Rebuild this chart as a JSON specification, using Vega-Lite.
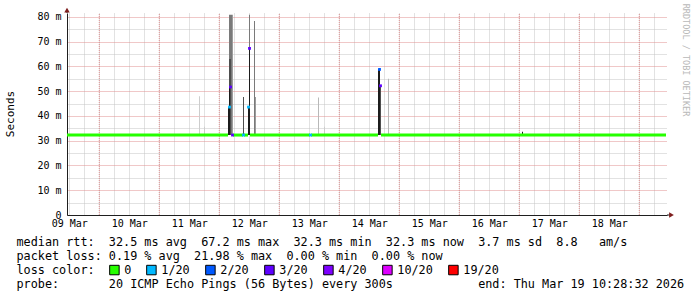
{
  "width": 600,
  "height": 202,
  "autosize": {"type": "none"},
  "padding": {"left": 67, "top": 13, "right": 30, "bottom": 82},
  "background": "#ffffff",
  "config": {
    "view": {"stroke": null},
    "font": "DejaVu Sans Mono"
  },
  "datasets": {
    "days": [
      {"t": "2026-03-10T00:00:00"}, {"t": "2026-03-11T00:00:00"}, {"t": "2026-03-12T00:00:00"},
      {"t": "2026-03-13T00:00:00"}, {"t": "2026-03-14T00:00:00"}, {"t": "2026-03-15T00:00:00"},
      {"t": "2026-03-16T00:00:00"}, {"t": "2026-03-17T00:00:00"}, {"t": "2026-03-18T00:00:00"},
      {"t": "2026-03-19T00:00:00"}
    ],
    "smoke": [
      {"t": "2026-03-11T15:53:00", "t2": "2026-03-11T16:17:00", "lo": 32.3, "hi": 48.0, "level": 6},
      {"t": "2026-03-11T17:53:00", "t2": "2026-03-11T18:17:00", "lo": 32.3, "hi": 35.6, "level": 6},
      {"t": "2026-03-12T03:29:00", "t2": "2026-03-12T03:53:00", "lo": 32.3, "hi": 43.6, "level": 1},
      {"t": "2026-03-12T03:53:00", "t2": "2026-03-12T04:17:00", "lo": 32.3, "hi": 51.7, "level": 1},
      {"t": "2026-03-12T03:53:00", "t2": "2026-03-12T04:17:00", "lo": 51.7, "hi": 63.0, "level": 2},
      {"t": "2026-03-12T03:53:00", "t2": "2026-03-12T04:17:00", "lo": 63.0, "hi": 80.9, "level": 3},
      {"t": "2026-03-12T04:17:00", "t2": "2026-03-12T04:41:00", "lo": 32.3, "hi": 63.0, "level": 2},
      {"t": "2026-03-12T04:17:00", "t2": "2026-03-12T04:41:00", "lo": 63.0, "hi": 80.9, "level": 3},
      {"t": "2026-03-12T04:41:00", "t2": "2026-03-12T05:05:00", "lo": 32.3, "hi": 80.9, "level": 3},
      {"t": "2026-03-12T05:05:00", "t2": "2026-03-12T05:29:00", "lo": 32.3, "hi": 80.9, "level": 4},
      {"t": "2026-03-12T09:29:00", "t2": "2026-03-12T09:53:00", "lo": 32.3, "hi": 47.7, "level": 2},
      {"t": "2026-03-12T11:29:00", "t2": "2026-03-12T11:53:00", "lo": 32.3, "hi": 43.6, "level": 1},
      {"t": "2026-03-12T11:53:00", "t2": "2026-03-12T12:17:00", "lo": 32.3, "hi": 67.3, "level": 1},
      {"t": "2026-03-12T11:53:00", "t2": "2026-03-12T12:17:00", "lo": 67.3, "hi": 80.9, "level": 3},
      {"t": "2026-03-12T13:53:00", "t2": "2026-03-12T14:17:00", "lo": 32.3, "hi": 78.4, "level": 3},
      {"t": "2026-03-12T14:17:00", "t2": "2026-03-12T14:41:00", "lo": 32.3, "hi": 47.7, "level": 4},
      {"t": "2026-03-13T15:29:00", "t2": "2026-03-13T15:53:00", "lo": 32.3, "hi": 47.5, "level": 5},
      {"t": "2026-03-13T17:53:00", "t2": "2026-03-13T18:17:00", "lo": 32.3, "hi": 35.6, "level": 6},
      {"t": "2026-03-14T15:29:00", "t2": "2026-03-14T15:53:00", "lo": 32.3, "hi": 58.9, "level": 1},
      {"t": "2026-03-14T15:53:00", "t2": "2026-03-14T16:17:00", "lo": 32.3, "hi": 58.9, "level": 1},
      {"t": "2026-03-14T16:17:00", "t2": "2026-03-14T16:41:00", "lo": 32.3, "hi": 52.2, "level": 2},
      {"t": "2026-03-14T19:29:00", "t2": "2026-03-14T19:53:00", "lo": 32.3, "hi": 55.0, "level": 5},
      {"t": "2026-03-17T01:05:00", "t2": "2026-03-17T01:29:00", "lo": 32.6, "hi": 33.6, "level": 1}
    ],
    "median": [
      {"t": "2026-03-09T11:05:00", "t2": "2026-03-12T03:29:00", "v": 32.3},
      {"t": "2026-03-12T05:29:00", "t2": "2026-03-12T09:29:00", "v": 32.3},
      {"t": "2026-03-12T09:53:00", "t2": "2026-03-12T11:29:00", "v": 32.3},
      {"t": "2026-03-12T12:17:00", "t2": "2026-03-13T12:17:00", "v": 32.3},
      {"t": "2026-03-13T12:41:00", "t2": "2026-03-14T15:29:00", "v": 32.3},
      {"t": "2026-03-14T16:41:00", "t2": "2026-03-19T10:41:00", "v": 32.3}
    ],
    "loss": [
      {"t": "2026-03-12T04:05:00", "v": 43.6, "loss": "1/20"},
      {"t": "2026-03-12T04:29:00", "v": 51.7, "loss": "3/20"},
      {"t": "2026-03-12T05:17:00", "v": 32.3, "loss": "3/20"},
      {"t": "2026-03-12T09:41:00", "v": 32.3, "loss": "1/20"},
      {"t": "2026-03-12T11:41:00", "v": 43.6, "loss": "1/20"},
      {"t": "2026-03-12T12:05:00", "v": 67.3, "loss": "3/20"},
      {"t": "2026-03-13T12:29:00", "v": 32.3, "loss": "1/20"},
      {"t": "2026-03-14T16:05:00", "v": 58.8, "loss": "2/20"},
      {"t": "2026-03-14T16:29:00", "v": 52.2, "loss": "3/20"}
    ]
  },
  "layer": [
    {
      "data": {"name": "smoke"},
      "mark": {"type": "rect"},
      "encoding": {
        "x": {
          "field": "t",
          "type": "temporal",
          "scale": {
            "domain": [
              {"year": 2026, "month": 3, "date": 9, "hours": 11, "minutes": 5},
              {"year": 2026, "month": 3, "date": 19, "hours": 11, "minutes": 5}
            ],
            "nice": false
          },
          "axis": {
            "tickCount": 40,
            "grid": true,
            "gridColor": "#c4c4c4",
            "gridDash": [1, 1],
            "ticks": false,
            "domainColor": "#1f1f1f",
            "labelExpr": "hours(datum.value) === 12 ? timeFormat(datum.value, '%d %b') : ''",
            "labelFont": "DejaVu Sans Mono",
            "labelFontSize": 10,
            "labelColor": "#000000",
            "labelPadding": 3,
            "labelFlush": false,
            "labelOverlap": false,
            "title": [
              "median rtt:\u00a0\u00a032.5 ms avg\u00a0\u00a067.2 ms max\u00a0\u00a032.3 ms min\u00a0\u00a032.3 ms now\u00a0\u00a03.7 ms sd\u00a0\u00a08.8\u00a0\u00a0\u00a0am/s",
              "packet loss: 0.19 % avg\u00a0\u00a021.98 % max\u00a0\u00a00.00 % min\u00a0\u00a00.00 % now",
              "loss color:",
              "probe:\u00a0\u00a0\u00a0\u00a0\u00a0\u00a0\u00a020 ICMP Echo Pings (56 Bytes) every 300s\u00a0\u00a0\u00a0\u00a0\u00a0\u00a0\u00a0\u00a0\u00a0\u00a0\u00a0\u00a0end: Thu Mar 19 10:28:32 2026"
            ],
            "titleX": -51,
            "titleY": 21,
            "titleAlign": "left",
            "titleAnchor": "start",
            "titleBaseline": "top",
            "titleFont": "DejaVu Sans Mono",
            "titleFontSize": 11.8,
            "titleFontWeight": "normal",
            "titleColor": "#000000",
            "titleLineHeight": 14.3
          }
        },
        "x2": {"field": "t2"},
        "y": {
          "field": "lo",
          "type": "quantitative",
          "scale": {"domain": [0, 81.6], "nice": false},
          "axis": {
            "title": "Seconds",
            "titleFont": "DejaVu Sans Mono",
            "titleFontSize": 11,
            "titleFontWeight": "normal",
            "titleColor": "#000000",
            "titleX": -56.5,
            "titleY": 100.5,
            "titleAlign": "center",
            "titleBaseline": "middle",
            "tickCount": 17,
            "grid": true,
            "gridColor": {"condition": {"test": "datum.value % 10 === 0", "value": "#e09090"}, "value": "#c4c4c4"},
            "gridDash": [1, 1],
            "ticks": false,
            "domainColor": "#1f1f1f",
            "labelExpr": "datum.value === 0 ? '0' : (datum.value % 10 === 0 ? datum.value + ' m' : '')",
            "labelFont": "DejaVu Sans Mono",
            "labelFontSize": 10,
            "labelColor": "#000000",
            "labelPadding": 6,
            "labelOverlap": false
          }
        },
        "y2": {"field": "hi"},
        "fill": {
          "field": "level",
          "type": "ordinal",
          "scale": {"domain": [1, 2, 3, 4, 5, 6], "range": ["#1c1c1c", "#4e4e4e", "#7a7a7a", "#9c9c9c", "#b8b8b8", "#cdcdcd"]},
          "legend": null
        }
      }
    },
    {
      "data": {"name": "days"},
      "mark": {"type": "rule", "color": "#e09090", "strokeDash": [1, 1], "strokeWidth": 1},
      "encoding": {
        "x": {"field": "t", "type": "temporal"},
        "y": {"datum": 0, "type": "quantitative"},
        "y2": {"datum": 81.6}
      }
    },
    {
      "data": {"name": "median"},
      "mark": {"type": "rule", "strokeWidth": 3, "color": "#26ff00", "strokeCap": "butt"},
      "encoding": {
        "x": {"field": "t", "type": "temporal"},
        "x2": {"field": "t2"},
        "y": {"field": "v", "type": "quantitative"}
      }
    },
    {
      "data": {"name": "loss"},
      "mark": {"type": "square", "size": 8, "filled": true, "opacity": 1},
      "encoding": {
        "x": {"field": "t", "type": "temporal"},
        "y": {"field": "v", "type": "quantitative"},
        "color": {
          "field": "loss",
          "type": "nominal",
          "scale": {
            "domain": ["0", "1/20", "2/20", "3/20", "4/20", "10/20", "19/20"],
            "range": ["#26ff00", "#00b8ff", "#0059ff", "#5e00ff", "#7e00ff", "#dd00ff", "#ff0000"]
          },
          "legend": {
            "orient": "none",
            "legendX": 41.5,
            "legendY": 251,
            "direction": "horizontal",
            "title": null,
            "symbolType": "square",
            "symbolSize": 90,
            "symbolStrokeColor": "#000000",
            "symbolStrokeWidth": 1,
            "labelFont": "DejaVu Sans Mono",
            "labelFontSize": 11.8,
            "labelColor": "#000000",
            "labelOffset": 4,
            "columnPadding": 13,
            "padding": 0
          }
        }
      }
    },
    {
      "data": {"values": [{}]},
      "mark": {"type": "text", "text": "RRDTOOL / TOBI OETIKER", "angle": 90, "font": "DejaVu Sans Mono", "fontSize": 8.5, "color": "#b8b8b8", "align": "center", "baseline": "middle"},
      "encoding": {
        "x": {"datum": {"year": 2026, "month": 3, "date": 19, "hours": 18, "minutes": 41}, "type": "temporal"},
        "y": {"datum": 62.6, "type": "quantitative"}
      }
    },
    {
      "data": {"values": [{}]},
      "mark": {"type": "rule", "color": "#1f1f1f", "strokeWidth": 1},
      "encoding": {
        "x": {"datum": {"year": 2026, "month": 3, "date": 19, "hours": 11, "minutes": 5}, "type": "temporal"},
        "x2": {"datum": {"year": 2026, "month": 3, "date": 19, "hours": 12, "minutes": 40}},
        "y": {"datum": 0, "type": "quantitative"}
      }
    },
    {
      "data": {"values": [{}]},
      "mark": {"type": "rule", "color": "#1f1f1f", "strokeWidth": 1},
      "encoding": {
        "x": {"datum": {"year": 2026, "month": 3, "date": 9, "hours": 11, "minutes": 5}, "type": "temporal"},
        "y": {"datum": 81.6, "type": "quantitative"},
        "y2": {"datum": 82.4}
      }
    },
    {
      "data": {"values": [{}]},
      "mark": {"type": "point", "shape": "triangle-up", "filled": true, "size": 30, "color": "#7f1f1f", "opacity": 1},
      "encoding": {
        "x": {"datum": {"year": 2026, "month": 3, "date": 9, "hours": 11, "minutes": 5}, "type": "temporal"},
        "y": {"datum": 82.8, "type": "quantitative"}
      }
    },
    {
      "data": {"values": [{}]},
      "mark": {"type": "point", "shape": "triangle-right", "filled": true, "size": 30, "color": "#7f1f1f", "opacity": 1},
      "encoding": {
        "x": {"datum": {"year": 2026, "month": 3, "date": 19, "hours": 12, "minutes": 53}, "type": "temporal"},
        "y": {"datum": 0, "type": "quantitative"}
      }
    }
  ]
}
